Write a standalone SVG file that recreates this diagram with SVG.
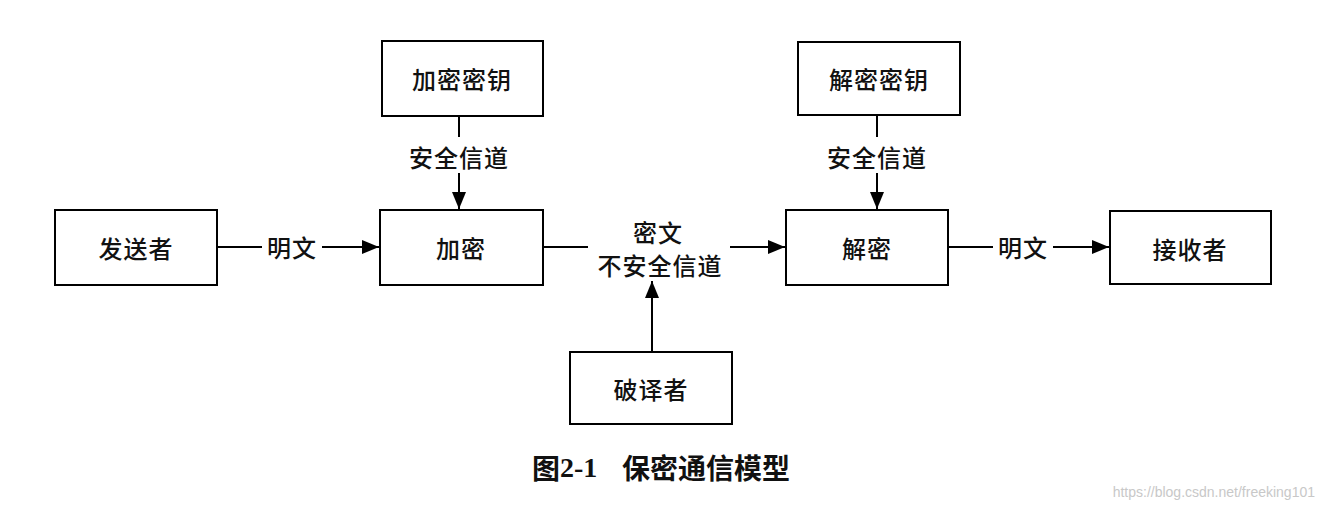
<svg xmlns="http://www.w3.org/2000/svg" width="1325" height="510" viewBox="0 0 1325 510">
<style>
.box{fill:#fff;stroke:#000;stroke-width:2}
.lbl{font-family:"Noto Sans CJK SC","Liberation Sans",sans-serif;font-size:24px;font-weight:500;fill:#111;text-anchor:middle;dominant-baseline:central;letter-spacing:1px}
.ln{stroke:#000;stroke-width:2;fill:none}
.cap{font-family:"Noto Sans CJK SC","Liberation Serif",sans-serif;font-size:28px;font-weight:700;fill:#111;dominant-baseline:central}
.wm{font-family:"Liberation Sans",sans-serif;font-size:14px;fill:#c8c8c8;text-anchor:end;dominant-baseline:central}
</style>
<defs>
<marker id="arr" markerWidth="18" markerHeight="14" refX="17" refY="7" orient="auto" markerUnits="userSpaceOnUse">
<path d="M0,0 L17,7 L0,14 Z" fill="#000"/>
</marker>
</defs>
<rect width="1325" height="510" fill="#fff"/>

<g id="connectors">
<line class="ln" x1="217" y1="247" x2="262" y2="247"/>
<line class="ln" x1="322" y1="247" x2="379" y2="247" marker-end="url(#arr)"/>
<line class="ln" x1="459" y1="116" x2="459" y2="137"/>
<line class="ln" x1="459" y1="173" x2="459" y2="209" marker-end="url(#arr)"/>
<line class="ln" x1="543" y1="247" x2="588" y2="247"/>
<line class="ln" x1="730" y1="247" x2="785" y2="247" marker-end="url(#arr)"/>
<line class="ln" x1="877" y1="115" x2="877" y2="137"/>
<line class="ln" x1="877" y1="173" x2="877" y2="209" marker-end="url(#arr)"/>
<line class="ln" x1="948" y1="247" x2="993" y2="247"/>
<line class="ln" x1="1053" y1="247" x2="1109" y2="247" marker-end="url(#arr)"/>
<line class="ln" x1="652" y1="352" x2="652" y2="281" marker-end="url(#arr)"/>
<text class="lbl" x="292" y="246">明文</text>
<text class="lbl" x="459" y="156">安全信道</text>
<text class="lbl" x="877" y="156">安全信道</text>
<text class="lbl" x="1023" y="246">明文</text>
<text class="lbl" x="658" y="231">密文</text>
<text class="lbl" x="660" y="264">不安全信道</text>
</g>

<g id="sender">
<rect class="box" x="55" y="210" width="162" height="75"/>
<text class="lbl" x="136" y="247">发送者</text>
</g>
<g id="encrypt">
<rect class="box" x="380" y="210" width="163" height="75"/>
<text class="lbl" x="461" y="247">加密</text>
</g>
<g id="enc-key">
<rect class="box" x="382" y="41" width="161" height="75"/>
<text class="lbl" x="462" y="78">加密密钥</text>
</g>
<g id="dec-key">
<rect class="box" x="798" y="42" width="162" height="73"/>
<text class="lbl" x="879" y="78">解密密钥</text>
</g>
<g id="decrypt">
<rect class="box" x="786" y="210" width="162" height="75"/>
<text class="lbl" x="867" y="247">解密</text>
</g>
<g id="receiver">
<rect class="box" x="1110" y="211" width="161" height="73"/>
<text class="lbl" x="1190" y="248">接收者</text>
</g>
<g id="attacker">
<rect class="box" x="570" y="352" width="162" height="72"/>
<text class="lbl" x="651" y="388">破译者</text>
</g>

<g id="caption">
<text class="cap" x="532" y="467">图<tspan font-family="Liberation Serif" font-weight="700">2-1</tspan><tspan x="622">保密通信模型</tspan></text>
</g>
<text class="wm" x="1315" y="492">https://blog.csdn.net/freeking101</text>
</svg>
